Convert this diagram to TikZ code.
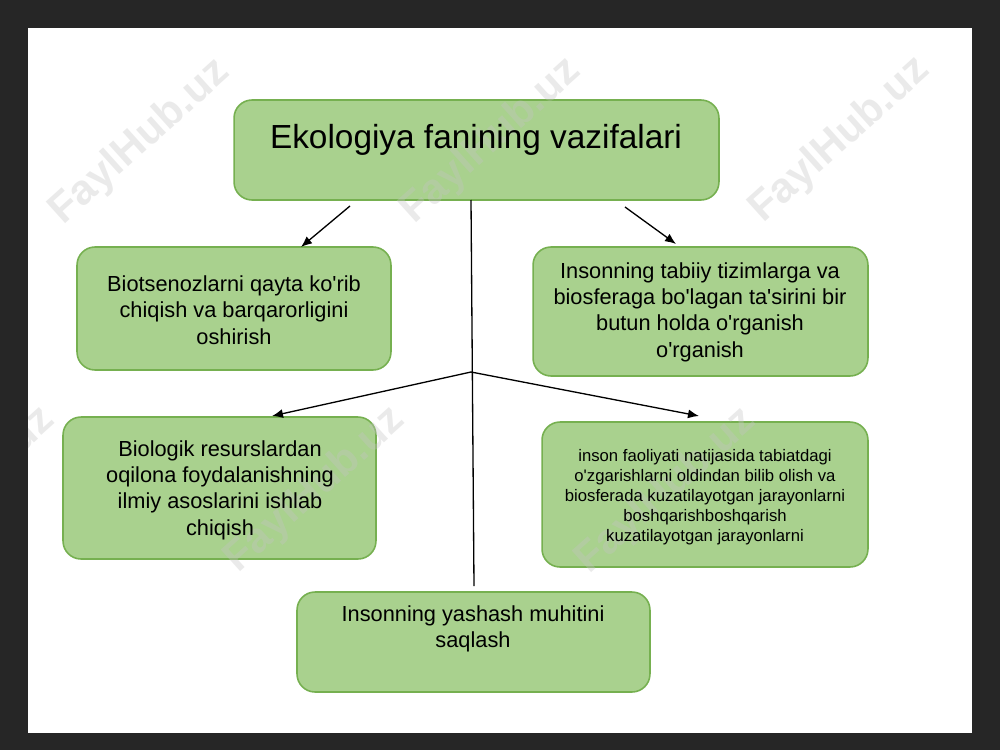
\documentclass[tikz,border=0pt]{standalone}
\usepackage{fontspec}
\setmainfont{Liberation Sans}[Ligatures=TeXOff]
\usepackage{xcolor}
\definecolor{ColFrame}{RGB}{38,38,38}
\definecolor{ColFill}{RGB}{169,209,142}
\definecolor{ColLine}{RGB}{118,176,80}
\definecolor{ColMark}{RGB}{196,196,196}
\usepackage{tikz}
\usetikzlibrary{arrows.meta}
\tikzstyle{Box}=[draw=ColLine,fill=ColFill,rounded corners=3.6mm,
line width=0.9pt]
\tikzstyle{BoxText}=[align=center,inner sep=0pt,
font=\fontsize{12.4}{15}\selectfont]
\tikzstyle{SmallText}=[align=center,inner sep=0pt,
font=\fontsize{9.5}{11.4}\selectfont]
\tikzstyle{Edge}=[draw=black,line width=0.75pt]
\tikzstyle{Arrow}=[Edge,-{Latex[length=2.2mm,width=1.8mm]}]
\tikzstyle{Mark}=[font=\fontsize{24}{24}\selectfont\bfseries,
text=ColMark,opacity=0.35,rotate=42]

\begin{document}
\begin{tikzpicture}[x=0.02cm,y=-0.02cm]
            \fill[ColFrame](0,0)rectangle(1000,750);
            \fill[white](28,28)rectangle(972,733);
            \useasboundingbox(0,0)rectangle(1000,750);
            %
            \node[Box,minimum width=9.7cm,minimum height=2cm](title)
                at(476.5,150){};
            \node[Box,minimum width=6.28cm,minimum height=2.46cm](bio)
                at(234,308.5){};
            \node[Box,minimum width=6.7cm,minimum height=2.58cm](ins)
                at(700.5,311.5){};
            \node[Box,minimum width=6.26cm,minimum height=2.84cm](biol)
                at(219.5,488){};
            \node[Box,minimum width=6.52cm,minimum height=2.9cm](fao)
                at(705,494.5){};
            \node[Box,minimum width=7.06cm,minimum height=2cm](yash)
                at(473.5,642){};
            %
            \begin{scope}
            \clip(28,28)rectangle(972,733);
            \node[Mark](m1)at(140,142){FaylHub.uz};
            \node[Mark](m2)at(491,141){FaylHub.uz};
            \node[Mark](m3)at(840,140){FaylHub.uz};
            \node[Mark](m4)at(-35,490){FaylHub.uz};
            \node[Mark](m5)at(315,490){FaylHub.uz};
            \node[Mark](m6)at(666,491){FaylHub.uz};
            \end{scope}
            %
            \node[anchor=base,font=\fontsize{19}{22}\selectfont](titletext)
                at(476,148){Ekologiya fanining vazifalari};
            \node[BoxText](biotext)at(234,310)
                {Biotsenozlarni qayta ko'rib\\chiqish va barqarorligini\\oshirish};
            \node[BoxText](instext)at(700,312)
                {Insonning tabiiy tizimlarga va\\biosferaga bo'lagan ta'sirini bir\\
                butun holda o'rganish\\o'rganish};
            \node[BoxText](bioltext)at(220,490)
                {Biologik resurslardan\\oqilona foydalanishning\\
                ilmiy asoslarini ishlab\\chiqish};
            \node[SmallText](faotext)at(705,497)
                {inson faoliyati natijasida tabiatdagi\\
                o'zgarishlarni oldindan bilib olish va\\
                biosferada kuzatilayotgan jarayonlarni\\
                boshqarishboshqarish\\kuzatilayotgan jarayonlarni};
            \node[BoxText](yashtext)at(473,629)
                {Insonning yashash muhitini\\saqlash};
            %
            \coordinate(s1)at(350,206);
            \coordinate(e1)at(301,247);
            \coordinate(s2)at(625,207);
            \coordinate(e2)at(676,244);
            \coordinate(top)at(471,200);
            \coordinate(fork)at(471,372);
            \coordinate(stem)at(474,586);
            \coordinate(e3)at(272,416);
            \coordinate(e4)at(699,416);
            \draw[Arrow](s1)--(e1);
            \draw[Arrow](s2)--(e2);
            \draw[Edge](top)--(stem);
            \draw[Arrow](fork)--(e3);
            \draw[Arrow](fork)--(e4);
\end{tikzpicture}
\end{document}
